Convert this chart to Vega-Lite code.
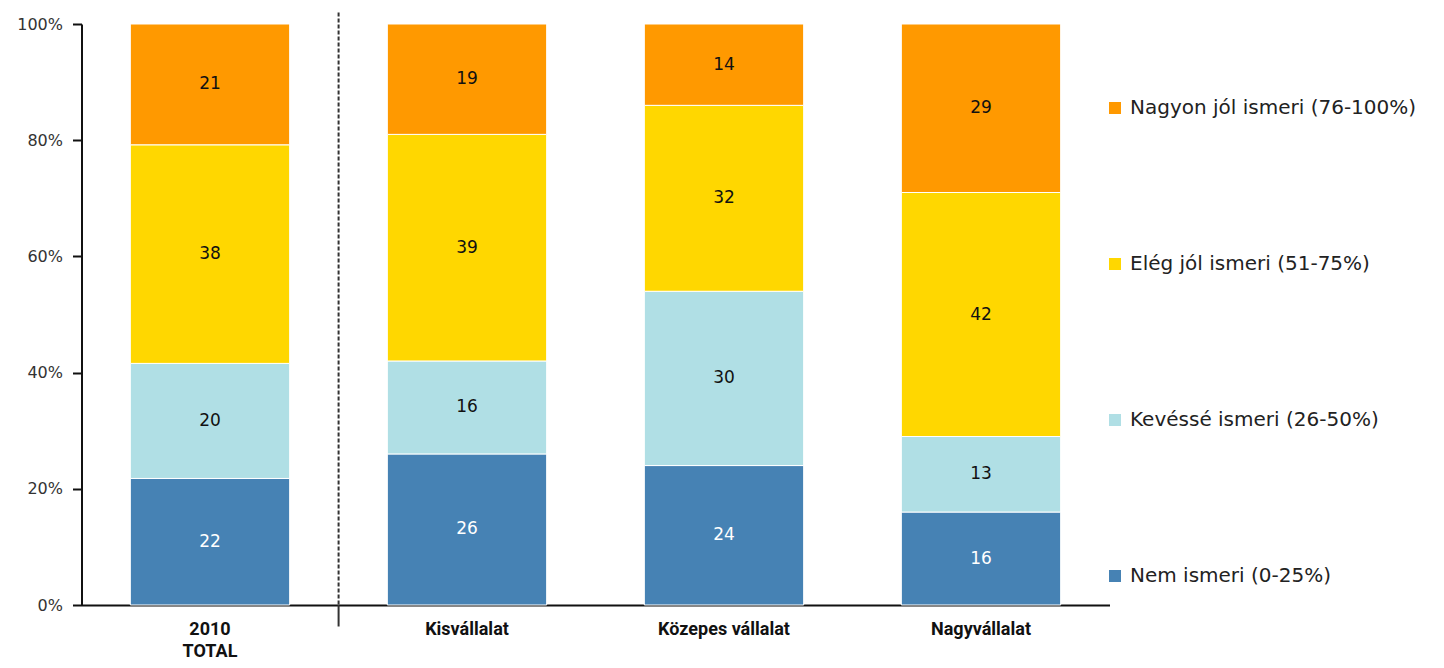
{
  "$schema": "https://vega.github.io/schema/vega-lite/v6.json",
  "autosize": {"type": "none"},
  "width": 1028,
  "height": 581,
  "padding": {"left": 81.5, "top": 24, "right": 334.5, "bottom": 63},
  "background": "white",
  "config": {"view": {"stroke": null}},
  "data": {
    "values": [
      {"group": "2010 TOTAL", "level": "Nem ismeri (0-25%)", "rank": 1, "value": 22},
      {"group": "2010 TOTAL", "level": "Kevéssé ismeri (26-50%)", "rank": 2, "value": 20},
      {"group": "2010 TOTAL", "level": "Elég jól ismeri (51-75%)", "rank": 3, "value": 38},
      {"group": "2010 TOTAL", "level": "Nagyon jól ismeri (76-100%)", "rank": 4, "value": 21},
      {"group": "Kisvállalat", "level": "Nem ismeri (0-25%)", "rank": 1, "value": 26},
      {"group": "Kisvállalat", "level": "Kevéssé ismeri (26-50%)", "rank": 2, "value": 16},
      {"group": "Kisvállalat", "level": "Elég jól ismeri (51-75%)", "rank": 3, "value": 39},
      {"group": "Kisvállalat", "level": "Nagyon jól ismeri (76-100%)", "rank": 4, "value": 19},
      {"group": "Közepes vállalat", "level": "Nem ismeri (0-25%)", "rank": 1, "value": 24},
      {"group": "Közepes vállalat", "level": "Kevéssé ismeri (26-50%)", "rank": 2, "value": 30},
      {"group": "Közepes vállalat", "level": "Elég jól ismeri (51-75%)", "rank": 3, "value": 32},
      {"group": "Közepes vállalat", "level": "Nagyon jól ismeri (76-100%)", "rank": 4, "value": 14},
      {"group": "Nagyvállalat", "level": "Nem ismeri (0-25%)", "rank": 1, "value": 16},
      {"group": "Nagyvállalat", "level": "Kevéssé ismeri (26-50%)", "rank": 2, "value": 13},
      {"group": "Nagyvállalat", "level": "Elég jól ismeri (51-75%)", "rank": 3, "value": 42},
      {"group": "Nagyvállalat", "level": "Nagyon jól ismeri (76-100%)", "rank": 4, "value": 29}
    ]
  },
  "encoding": {
    "x": {
      "field": "group",
      "type": "nominal",
      "sort": ["2010 TOTAL", "Kisvállalat", "Közepes vállalat", "Nagyvállalat"],
      "scale": {"paddingInner": 0.38, "paddingOuter": 0.19},
      "axis": {
        "title": null,
        "labelAngle": 0,
        "ticks": false,
        "domainColor": "#111",
        "domainWidth": 2,
        "labelFont": "Roboto",
        "labelFontWeight": "bold",
        "labelFontSize": 18,
        "labelColor": "#111",
        "labelPadding": 15,
        "labelLineHeight": 22,
        "labelExpr": "datum.value == '2010 TOTAL' ? ['2010', 'TOTAL'] : datum.value"
      }
    }
  },
  "layer": [
    {
      "mark": {"type": "bar", "stroke": "white", "strokeWidth": 1},
      "encoding": {
        "y": {
          "field": "value",
          "type": "quantitative",
          "stack": "normalize",
          "scale": {"domain": [0, 1]},
          "axis": {
            "title": null,
            "values": [0, 0.2, 0.4, 0.6, 0.8, 1],
            "format": ".0%",
            "grid": false,
            "domainColor": "#111",
            "domainWidth": 2,
            "tickColor": "#111",
            "tickWidth": 2,
            "tickSize": 9,
            "labelPadding": 10,
            "labelFont": "DejaVu Sans",
            "labelFontSize": 16,
            "labelColor": "#333"
          }
        },
        "order": {"field": "rank", "type": "quantitative"},
        "color": {
          "field": "level",
          "type": "nominal",
          "scale": {
            "domain": ["Nagyon jól ismeri (76-100%)", "Elég jól ismeri (51-75%)", "Kevéssé ismeri (26-50%)", "Nem ismeri (0-25%)"],
            "range": ["#FF9900", "#FFD700", "#B0DFE5", "#4682B4"]
          },
          "legend": {
            "title": null,
            "orient": "none",
            "legendX": 1023.5,
            "legendY": 74,
            "padding": 0,
            "symbolType": "square",
            "symbolSize": 144,
            "symbolStrokeWidth": 0,
            "labelFont": "DejaVu Sans",
            "labelFontSize": 20,
            "labelColor": "#222",
            "labelOffset": 5,
            "rowPadding": 136,
            "labelLimit": 400
          }
        }
      }
    },
    {
      "mark": {"type": "text", "font": "DejaVu Sans", "fontSize": 17},
      "encoding": {
        "y": {"field": "value", "type": "quantitative", "stack": "normalize", "bandPosition": 0.5},
        "order": {"field": "rank", "type": "quantitative"},
        "detail": {"field": "level", "type": "nominal"},
        "text": {"field": "value", "type": "quantitative"},
        "color": {
          "condition": {"test": "datum.rank == 1", "value": "white"},
          "value": "#111"
        }
      }
    },
    {
      "data": {"values": [{"divider": "after total"}]},
      "mark": {"type": "rule", "strokeDash": [4, 2], "strokeWidth": 2, "color": "#333", "clip": false},
      "encoding": {
        "x": {"datum": "2010 TOTAL", "type": "nominal", "bandPosition": 1.307},
        "y": {"datum": 1.02, "type": "quantitative"},
        "y2": {"datum": 0}
      }
    },
    {
      "data": {"values": [{"divider": "after total"}]},
      "mark": {"type": "rule", "strokeWidth": 2, "color": "#333", "clip": false},
      "encoding": {
        "x": {"datum": "2010 TOTAL", "type": "nominal", "bandPosition": 1.307},
        "y": {"datum": 0, "type": "quantitative"},
        "y2": {"datum": -0.037}
      }
    }
  ]
}
